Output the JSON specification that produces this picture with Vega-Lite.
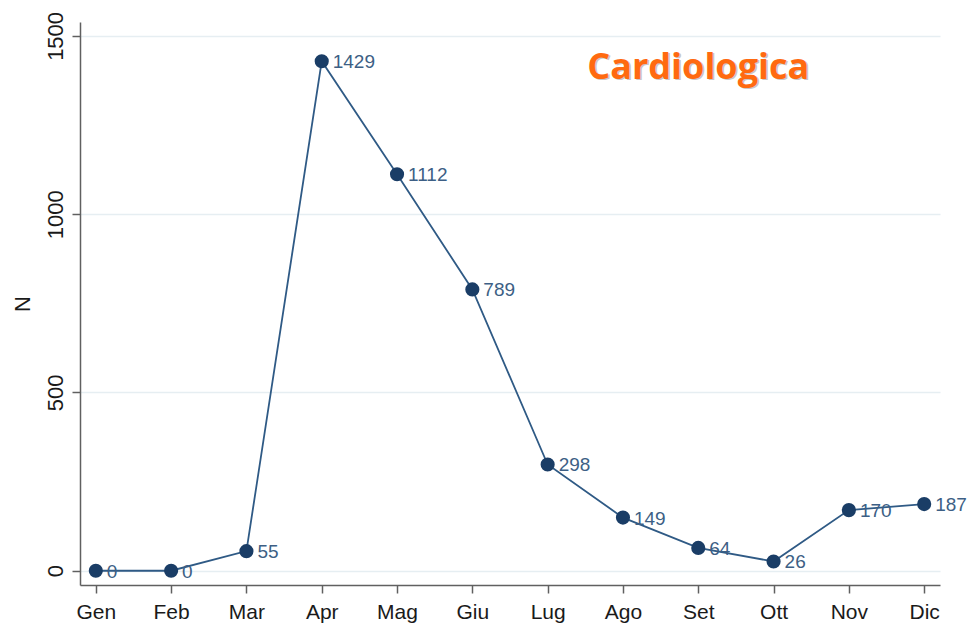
{
  "$schema": "https://vega.github.io/schema/vega-lite/v6.json",
  "width": 860,
  "height": 563,
  "autosize": {"type": "none"},
  "padding": {"left": 80, "top": 22, "right": 32, "bottom": 42},
  "background": "white",
  "config": {"view": {"stroke": null}},
  "datasets": {
    "months": [
      {"mese": "Gen", "n": 0},
      {"mese": "Feb", "n": 0},
      {"mese": "Mar", "n": 55},
      {"mese": "Apr", "n": 1429},
      {"mese": "Mag", "n": 1112},
      {"mese": "Giu", "n": 789},
      {"mese": "Lug", "n": 298},
      {"mese": "Ago", "n": 149},
      {"mese": "Set", "n": 64},
      {"mese": "Ott", "n": 26},
      {"mese": "Nov", "n": 170},
      {"mese": "Dic", "n": 187}
    ],
    "titolo": [{"mese": "Set", "n": 1410, "label": "Cardiologica"}]
  },
  "encoding": {
    "x": {
      "field": "mese", "type": "ordinal",
      "sort": ["Gen","Feb","Mar","Apr","Mag","Giu","Lug","Ago","Set","Ott","Nov","Dic"],
      "scale": {"type": "point", "padding": 0.21},
      "axis": {"title": null, "labelAngle": 0, "labelFont": "Liberation Sans", "labelFontSize": 21, "labelColor": "#1a1a1a", "labelPadding": 8, "domainColor": "#606060", "domainWidth": 1.5, "tickColor": "#606060", "tickWidth": 1.5, "tickSize": 8, "grid": false}
    },
    "y": {
      "field": "n", "type": "quantitative",
      "scale": {"domain": [-40, 1539], "nice": false, "zero": false},
      "axis": {"title": "N", "titleFont": "Liberation Sans", "titleFontSize": 22, "titleFontWeight": "normal", "titleColor": "#1a1a1a", "titlePadding": 10, "values": [0, 500, 1000, 1500], "format": "d", "labelAngle": -90, "labelAlign": "center", "labelBaseline": "bottom", "labelFont": "Liberation Sans", "labelFontSize": 22, "labelColor": "#1a1a1a", "labelPadding": 5, "domainColor": "#606060", "domainWidth": 1.5, "tickColor": "#606060", "tickWidth": 1.5, "tickSize": 8, "grid": true, "gridColor": "#e6eef2", "gridWidth": 1.5}
    }
  },
  "layer": [
    {
      "data": {"name": "months"},
      "mark": {"type": "line", "color": "#2f5a85", "strokeWidth": 1.8}
    },
    {
      "data": {"name": "months"},
      "mark": {"type": "point", "filled": true, "color": "#1a3d66", "size": 200, "opacity": 1}
    },
    {
      "data": {"name": "months"},
      "mark": {"type": "text", "align": "left", "baseline": "middle", "dx": 11, "dy": 1, "font": "Liberation Sans", "fontSize": 19, "color": "#3d5f85"},
      "encoding": {"text": {"field": "n", "type": "quantitative"}}
    },
    {
      "data": {"name": "titolo"},
      "mark": {"type": "text", "align": "center", "baseline": "middle", "dx": 1.5, "dy": 1.5, "font": "Open Sans", "fontWeight": "bold", "fontSize": 36, "color": "#c8c8c8"},
      "encoding": {"text": {"field": "label"}}
    },
    {
      "data": {"name": "titolo"},
      "mark": {"type": "text", "align": "center", "baseline": "middle", "font": "Open Sans", "fontWeight": "bold", "fontSize": 36, "color": "#ff6a10"},
      "encoding": {"text": {"field": "label"}}
    }
  ]
}
